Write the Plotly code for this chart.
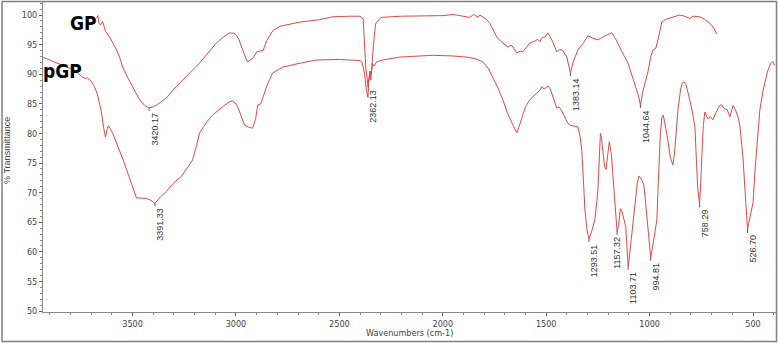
import plotly.graph_objects as go

# ---------------- data ----------------
gp_wavenumber = [3674, 3668, 3662, 3655, 3645, 3630, 3611, 3590, 3577, 3560,
                 3548, 3520, 3500, 3466, 3440, 3420.17, 3400, 3384, 3360, 3336,
                 3300, 3258, 3220, 3176, 3140, 3094, 3060, 3031, 3010, 2997,
                 2985, 2973, 2955, 2944, 2932, 2919, 2899, 2869, 2851, 2821,
                 2787, 2692, 2600, 2532, 2450, 2400, 2385, 2378, 2372, 2362.13,
                 2357, 2352, 2348, 2343, 2335, 2325, 2300, 2200, 2100, 2000,
                 1950, 1900, 1870, 1850, 1830, 1821, 1807, 1790, 1773, 1755,
                 1739, 1720, 1710, 1686, 1670, 1660, 1642, 1625, 1613, 1595,
                 1579, 1555, 1541, 1530, 1520, 1505, 1492, 1470, 1449, 1435,
                 1420, 1400, 1383.14, 1370, 1347, 1320, 1299, 1275, 1250, 1215,
                 1183, 1165, 1144, 1125, 1105, 1088, 1071, 1055, 1044.64, 1030,
                 1008, 995, 984, 970, 955, 941, 920, 902, 880, 854,
                 830, 815, 805, 790, 757, 735, 708, 690, 675]
gp_transmittance = [99.5, 99.9, 98.6, 98.3, 98.9, 97.2, 96.3, 95.0, 94.1, 92.6,
                    91.2, 89.2, 87.9, 85.7, 84.7, 84.3, 84.5, 84.8, 85.4, 86.0,
                    87.5, 89.0, 90.5, 91.9, 93.4, 95.3, 96.3, 97.0, 96.9, 96.6,
                    95.8, 94.6, 92.9, 92.1, 92.4, 92.7, 93.8, 94.0, 95.7, 97.4,
                    98.1, 98.8, 99.2, 99.7, 99.8, 99.8, 99.3, 95.5, 91.0, 88.3,
                    89.5, 90.5, 89.0, 91.5, 95.0, 98.5, 99.6, 99.8, 99.9, 99.9,
                    100.1, 99.8, 99.6, 100.1, 99.6, 100.0, 99.7, 99.3, 98.6, 97.3,
                    96.3, 95.6, 95.3, 94.6, 94.9, 94.6, 93.6, 93.9, 93.8, 94.5,
                    95.3, 95.6, 95.9, 95.5, 96.2, 96.3, 97.0, 95.6, 93.8, 94.2,
                    94.0, 92.9, 90.2, 92.0, 94.1, 95.3, 96.5, 96.1, 95.8, 96.5,
                    97.0, 96.0, 94.4, 93.2, 91.9, 90.0, 88.2, 86.5, 84.8, 87.5,
                    90.4, 92.9, 94.1, 94.4, 96.5, 98.8, 99.3, 99.5, 99.7, 100.0,
                    99.8, 99.5, 99.4, 99.8, 99.7, 99.3, 98.6, 97.8, 96.8]

pgp_wavenumber = [3935, 3900, 3887, 3850, 3819, 3790, 3771, 3742, 3730, 3718,
                  3700, 3684, 3669, 3658, 3650, 3640, 3631, 3622, 3616, 3605,
                  3597, 3580, 3563, 3545, 3529, 3505, 3481, 3455, 3432, 3410,
                  3391.33, 3365, 3336, 3306, 3280, 3263, 3240, 3210, 3190, 3176,
                  3140, 3113, 3065, 3030, 3016, 3000, 2992, 2975, 2958, 2935,
                  2919, 2905, 2895, 2880, 2865, 2851, 2823, 2774, 2700, 2610,
                  2500, 2450, 2400, 2390, 2378, 2370, 2362.13, 2358, 2352, 2346,
                  2340, 2332, 2320, 2290, 2208, 2100, 2048, 1960, 1884, 1840,
                  1807, 1780, 1758, 1735, 1710, 1688, 1666, 1650, 1642, 1633,
                  1613, 1600, 1579, 1560, 1546, 1530, 1521, 1510, 1492, 1480,
                  1465, 1449, 1438, 1425, 1400, 1386, 1360, 1347, 1336, 1328,
                  1320, 1313, 1303, 1293.51, 1280, 1265, 1255, 1250, 1243, 1238,
                  1232, 1226, 1218, 1211, 1204, 1195, 1185, 1175, 1168, 1162,
                  1157.32, 1150, 1141, 1135, 1125, 1115, 1108, 1103.71, 1097, 1090,
                  1081, 1070, 1060, 1052, 1045, 1036, 1028, 1020, 1008, 1000,
                  994.81, 985, 976, 965, 960, 955, 948, 940, 934, 928,
                  920, 912, 900, 888, 880, 872, 863, 850, 842, 834,
                  825, 815, 805, 795, 781, 775, 768, 758.29, 754, 750,
                  745, 740, 733, 718, 705, 694, 680, 660, 651, 640,
                  625, 612, 597, 585, 570, 563, 549, 539, 532, 526.70,
                  520, 510, 500, 490, 480, 467, 450, 428, 415, 404,
                  395]
pgp_transmittance = [92.9, 92.4, 92.1, 91.7, 91.2, 90.8, 90.4, 89.5, 89.3, 89.4,
                     88.8, 87.9, 86.5, 85.0, 83.5, 81.0, 79.4, 80.8, 81.3, 80.6,
                     80.1, 78.6, 77.2, 75.5, 73.9, 71.5, 69.1, 69.1, 69.0, 68.7,
                     68.2, 69.3, 70.2, 71.5, 72.3, 72.8, 74.0, 75.5, 78.0, 80.1,
                     82.0, 83.1, 84.5, 85.4, 85.5, 85.0, 84.5, 83.0, 81.4, 81.0,
                     80.9, 82.5, 84.8, 85.0, 86.5, 88.0, 90.2, 91.2, 91.8, 92.4,
                     92.5, 92.4, 92.3, 92.0, 90.0, 87.5, 86.1, 88.5, 90.5, 90.0,
                     91.8, 91.4, 92.1, 92.4, 92.9, 93.1, 93.2, 93.1, 92.9, 92.6,
                     92.1, 91.0, 89.5, 87.8, 85.7, 83.5, 81.8, 80.6, 80.1, 81.0,
                     83.0, 84.5, 85.7, 86.4, 86.8, 87.3, 87.9, 87.5, 88.0, 87.5,
                     86.0, 84.3, 84.5, 83.8, 82.0, 81.4, 81.2, 81.1, 79.5, 77.2,
                     72.0, 67.1, 63.8, 62.2, 63.5, 65.4, 68.5, 70.5, 76.0, 80.0,
                     79.0, 77.2, 74.5, 73.9, 76.0, 78.6, 76.5, 72.0, 68.3, 65.0,
                     63.4, 64.5, 67.3, 67.0, 65.5, 64.2, 60.0, 57.5, 59.5, 62.0,
                     64.2, 68.5, 71.5, 72.8, 72.6, 72.0, 71.3, 68.5, 64.2, 61.0,
                     59.0, 61.0, 63.0, 65.4, 70.0, 75.5, 80.0, 82.8, 83.1, 82.0,
                     80.5, 78.9, 76.0, 74.7, 76.5, 80.0, 84.0, 87.5, 88.5, 88.7,
                     88.3, 87.0, 85.7, 84.0, 81.1, 76.0, 71.0, 68.0, 70.5, 74.0,
                     78.0, 81.5, 83.6, 82.5, 82.8, 82.3, 83.5, 84.8, 84.8, 84.2,
                     84.0, 82.8, 84.7, 84.0, 82.5, 81.1, 76.1, 71.0, 66.5, 63.7,
                     65.0, 67.0, 68.3, 74.0, 79.0, 84.0, 87.5, 90.7, 91.8, 92.1,
                     91.5]

peak_wavenumber = [3420.17, 3391.33, 2362.13, 1383.14, 1044.64, 1293.51,
                   1157.32, 1103.71, 994.81, 758.29, 526.70]
peak_transmittance = [84.3, 68.2, 88.3, 90.2, 84.8, 62.2, 63.4, 57.5, 59.0, 68.0, 63.7]
peak_labels = ["%.2f" % w for w in peak_wavenumber]

series_names = ["GP", "pGP"]
series_label_wavenumber = [3739, 3840]
series_label_transmittance = [98.6, 90.5]

x_tick_values = [3500, 3000, 2500, 2000, 1500, 1000, 500]
y_tick_values = [50, 55, 60, 65, 70, 75, 80, 85, 90, 95, 100]

# ---------------- figure ----------------
LINE = "#e04848"
NARROW = "Liberation Sans Narrow, DejaVu Sans Condensed, Arial Narrow, sans-serif"
REG = "Liberation Sans, Arial, sans-serif"

fig = go.Figure()
fig.add_trace(go.Scatter(x=gp_wavenumber, y=gp_transmittance, mode="lines",
                         line=dict(color=LINE, width=1), showlegend=False))
fig.add_trace(go.Scatter(x=pgp_wavenumber, y=pgp_transmittance, mode="lines",
                         line=dict(color=LINE, width=1), showlegend=False))

# small tick marks under labelled peaks
tx, ty = [], []
for w, t in zip(peak_wavenumber, peak_transmittance):
    tx += [w, w, None]
    ty += [t, t - 0.5, None]
fig.add_trace(go.Scatter(x=tx, y=ty, mode="lines",
                         line=dict(color="#555555", width=1), showlegend=False))

for w, t, lab in zip(peak_wavenumber, peak_transmittance, peak_labels):
    fig.add_annotation(x=w, y=t, text=lab, showarrow=False, textangle=-90,
                       xanchor="center", yanchor="top",
                       xshift=(0 if lab == "1157.32" else 5), yshift=-3,
                       font=dict(family=REG, size=9, color="#333333"))

for name, w, t in zip(series_names, series_label_wavenumber, series_label_transmittance):
    fig.add_annotation(x=w, y=t, text="<b>%s</b>" % name, showarrow=False,
                       xanchor="center", yanchor="middle",
                       font=dict(family=NARROW, size=19, color="#000000"))

# axis titles
fig.add_annotation(xref="paper", yref="paper", x=0.5, y=-0.068, text="Wavenumbers (cm-1)",
                   showarrow=False, xanchor="center", yanchor="middle",
                   font=dict(family=NARROW, size=9, color="#444444"))
fig.add_annotation(xref="paper", yref="paper", x=-0.049, y=0.52, text="% Transmittance",
                   showarrow=False, textangle=-90, xanchor="center", yanchor="middle",
                   font=dict(family=REG, size=9, color="#444444"))

# outer frame
fig.add_shape(type="rect", xref="paper", yref="paper",
              x0=-0.0559, x1=1.0007, y0=-0.0952, y1=1.0016,
              line=dict(color="#808080", width=1.5), fillcolor="rgba(0,0,0,0)")

fig.update_xaxes(range=[3933, 389], tickvals=x_tick_values,
                 showgrid=False, zeroline=False, showline=True,
                 linecolor="#888888", linewidth=1,
                 ticks="outside", ticklen=3, tickcolor="#666666",
                 minor=dict(dtick=100, ticks="outside", ticklen=2, tickcolor="#888888"),
                 tickfont=dict(family=NARROW, size=9, color="#444444"))
fig.update_yaxes(range=[49.85, 102.2], tickvals=y_tick_values,
                 showgrid=False, zeroline=False, showline=True,
                 linecolor="#888888", linewidth=1,
                 ticks="outside", ticklen=3, tickcolor="#666666",
                 minor=dict(dtick=1, ticks="outside", ticklen=2, tickcolor="#888888"),
                 tickfont=dict(family=NARROW, size=9, color="#444444"))

fig.update_layout(width=778, height=343,
                  margin=dict(l=43, r=2, t=2, b=31),
                  plot_bgcolor="white", paper_bgcolor="white",
                  showlegend=False)

fig.write_html("out.html", config={"displayModeBar": False},
               post_script="document.body.style.margin='0';document.body.style.overflow='hidden';")
